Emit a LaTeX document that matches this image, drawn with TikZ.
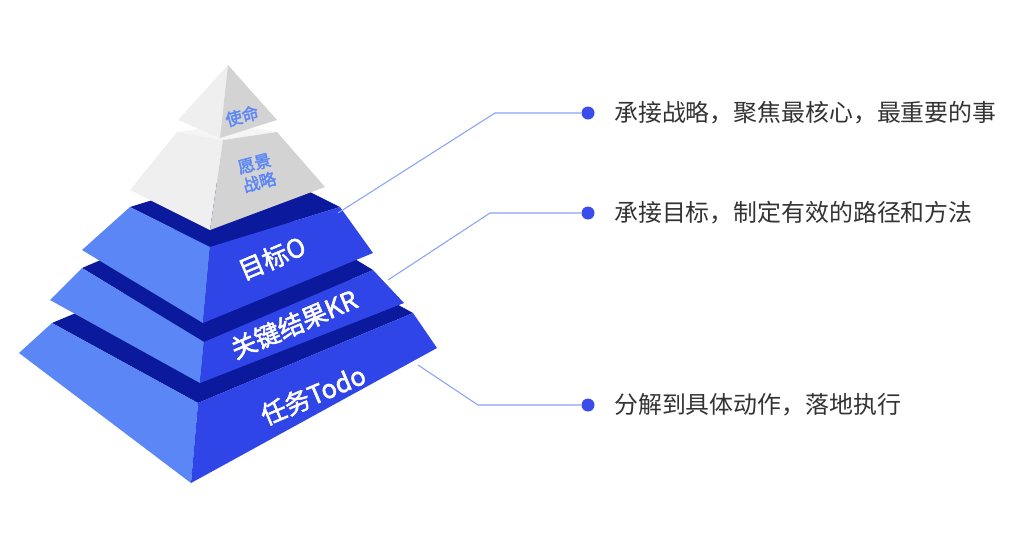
\documentclass[tikz,border=0pt]{standalone}
\usepackage{fontspec}
\setmainfont{Noto Sans CJK SC}[BoldFont=Noto Sans CJK SC,BoldFeatures={FakeBold=2}]
\usetikzlibrary{calc}
\definecolor{faceL}{HTML}{5B86F6}
\definecolor{faceR}{HTML}{2F45E8}
\definecolor{faceT}{HTML}{0B1A9C}
\definecolor{grayL}{HTML}{EFEFEF}
\definecolor{grayR}{HTML}{D3D3D3}
\definecolor{linkline}{HTML}{8AA2F4}
\definecolor{dotblue}{HTML}{3A4DEB}
\definecolor{txt}{HTML}{333333}
\tikzset{
  layerlabel/.style={text=white,font=\fontsize{14.5}{16}\selectfont\bfseries,rotate=23,inner sep=0pt},
  graylabel/.style={text=faceL,font=\fontsize{9.5}{11}\selectfont\bfseries,rotate=15,align=center,inner sep=0pt},
  linkto/.style={draw=linkline,line width=0.6pt},
  sidetext/.style={text=txt,anchor=west,font=\fontsize{13.6}{15}\selectfont},
  bullet/.style={circle,fill=dotblue,inner sep=0pt,minimum size=7.4pt},
}
% one layer: left bottom, front bottom, right bottom, left top, front top, right top, colours
\newcommand{\pyrlayer}[9]{%
  \fill[#9] (#4) -- (#5) -- (#6) -- ($(#4)+(#6)-(#5)$) -- cycle;
  \fill[#7] (#1) -- (#2) -- (#5) -- (#4) -- cycle;
  \fill[#8] (#2) -- (#3) -- (#6) -- (#5) -- cycle;
}
\begin{document}
\begin{tikzpicture}[x=0.02cm,y=-0.02cm]
\useasboundingbox (0,0) rectangle (1025,549);
% the pyramid, from the bottom up
\pyrlayer{19,353}{191,483}{437,348}{52,323}{198,403}{413,313}{faceL}{faceR}{faceT}
\pyrlayer{50,300}{200,383}{404,303}{82,268}{204,342}{373,270}{faceL}{faceR}{faceT}
\pyrlayer{82,250}{203,323}{373,253}{130,207}{210,247}{340,207}{faceL}{faceR}{faceT}
\pyrlayer{130,190}{210,230}{325,187}{177,132}{223,140}{277,132}{grayL}{grayR}{grayL!60!white}
\fill[grayL] (178,120) -- (220,138) -- (228,65) -- cycle;
\fill[grayR] (220,138) -- (277,120) -- (228,65) -- cycle;
% labels on the layers
\node[graylabel] (mission) at (242,116) {使命};
\node[graylabel] (vision) at (257,173) {愿景\\战略};
\node[layerlabel] (obj) at (272,258) {目标O};
\node[layerlabel] (kr) at (294,324) {关键结果KR};
\node[layerlabel] (todo) at (313,395) {任务Todo};
% bullets and texts
\node[bullet] (d1) at (588,113) {};
\node[bullet] (d2) at (588,213) {};
\node[bullet] (d3) at (588,405) {};
\node[sidetext] (t1) at (608,113) {承接战略，聚焦最核心，最重要的事};
\node[sidetext] (t2) at (608,213) {承接目标，制定有效的路径和方法};
\node[sidetext] (t3) at (608,405) {分解到具体动作，落地执行};
% connectors
\coordinate (s1) at (338,213);
\coordinate (s2) at (388,280);
\coordinate (s3) at (418,365);
\draw[linkto] (s1) -- (495,113) -- (d1);
\draw[linkto] (s2) -- (490,213) -- (d2);
\draw[linkto] (s3) -- (478,405) -- (d3);
\end{tikzpicture}
\end{document}
